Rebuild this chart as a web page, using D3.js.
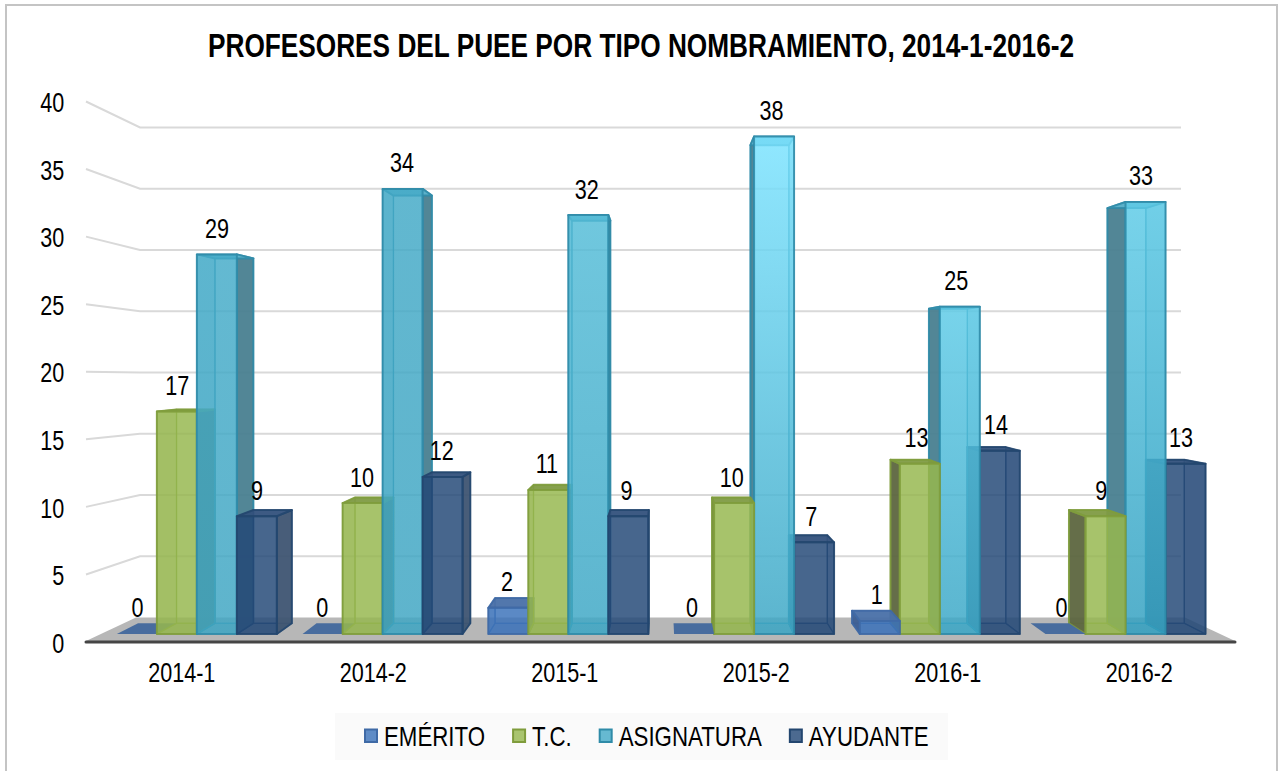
<!DOCTYPE html>
<html>
<head>
<meta charset="utf-8">
<script src="https://cdn.jsdelivr.net/npm/d3@7"></script>
<style>
  html, body { margin: 0; padding: 0; background: #fff; }
  text { font-family: "Liberation Sans", Arial, sans-serif; fill: #000; }
</style>
</head>
<body>
<svg id="chart" width="1281" height="771"></svg>
<script>
const categories = ["2014-1", "2014-2", "2015-1", "2015-2", "2016-1", "2016-2"];
const seriesNames = ["EMÉRITO", "T.C.", "ASIGNATURA", "AYUDANTE"];
const emerito = [0, 0, 2, 0, 1, 0];
const tc = [17, 10, 11, 10, 13, 9];
const asignatura = [29, 34, 32, 38, 25, 33];
const ayudante = [9, 12, 9, 7, 14, 13];
const yTicks = [0, 5, 10, 15, 20, 25, 30, 35, 40];

const values = [emerito, tc, asignatura, ayudante];

// colores de cada serie (el frente va con transparencia)
const palette = [
  { front: "#3c73b9", legend: "#5f8cc6", stroke: "#3f6aa6", side: "#3d5f93", hidden: "#4f78b0", top: "#4a70a8" },
  { front: "#96b74f", legend: "#a9c46f", stroke: "#7f9c3c", side: "#5d6640", hidden: "#83a34d", top: "#7f9b45" },
  { front: "#44aac7", legend: "#66b9d1", stroke: "#2f8ba8", side: "#4a7f90", hidden: "#3f9db8", top: "#5db3cc" },
  { front: "#254978", legend: "#4c6a90", stroke: "#23466f", side: "#3f5572", hidden: "#2c4a74", top: "#34527c" }
];
// degradado de ASIGNATURA, cambia por categoria
const asigTop = ["#46acc9", "#44aac7", "#55bdd8", "#7be3ff", "#5ecbe7", "#5ecbe7"];
const asigBottom = ["#40a6c3", "#40a6c3", "#3ea7c5", "#3ca6c4", "#3ba7c6", "#33a0c0"];

const svg = d3.select("#chart");

// las letras del original son angostas: se comprime el texto en x
const NARROW = 0.8;
const NARROW_LEGEND = 0.825;

// marco
svg.append("rect")
  .attr("x", 6).attr("y", 5)
  .attr("width", 1271).attr("height", 790)
  .attr("fill", "#fff")
  .attr("stroke", "#c4c4c4")
  .attr("stroke-width", 2);

// titulo
svg.append("text")
  .attr("transform", "translate(641,57) scale(0.795,1)")
  .attr("text-anchor", "middle")
  .style("font-size", "33px")
  .style("font-weight", "bold")
  .text("PROFESORES DEL PUEE POR TIPO NOMBRAMIENTO, 2014-1-2016-2");

// Escalas: plano frontal de las barras y planos del eje y de la pared
const x0 = d3.scaleBand().domain(categories).range([104, 1218.4]).paddingInner(0).paddingOuter(0);
const x1 = d3.scaleBand().domain(d3.range(4)).range([0, 160]);
const y = d3.scaleLinear().domain([0, 40]).range([634, 110.4]);
const xAxisScale = d3.scaleBand().domain(categories).range([86, 1235]);
const yFront = d3.scaleLinear().domain([0, 40]).range([642, 101.5]);
const yWall = d3.scaleLinear().domain([0, 40]).range([617.5, 127.5]);
const xWall = d3.scaleLinear().domain([0, 1]).range([140, 1181]);
const xFront = d3.scaleLinear().domain([0, 1]).range([86, 1235]);

// perspectiva: punto de fuga y profundidad de la barra
const cx = 661, cy = 358, backF = 0.961;
const project = (px, v, f) => [cx + f * (px - cx), cy + f * (y(v) - cy)];
const closed = d3.line().curve(d3.curveLinearClosed);

// Grid de la pared y lineas laterales
const grid = svg.append("g");
yTicks.filter(d => d > 0).forEach(t => {
  grid.append("path")
    .attr("d", d3.line()([
      [xFront(0), yFront(t)], [xWall(0), yWall(t)], [xWall(1), yWall(t)]
    ]))
    .attr("fill", "none")
    .attr("stroke", "#d9d9d9")
    .attr("stroke-width", 2);
});

// Piso
svg.append("path")
  .attr("d", closed([
    [xFront(0), yFront(0) - 1], [xWall(0) - 4, yWall(0)], [xWall(1) + 4, yWall(0)], [xFront(1), yFront(0) - 1]
  ]))
  .attr("fill", "#b7b7b7");

// Eje base
svg.append("line")
  .attr("x1", xFront(0)).attr("x2", xFront(1))
  .attr("y1", yFront(0)).attr("y2", yFront(0))
  .attr("stroke", "#454545")
  .attr("stroke-width", 3)
  .attr("stroke-linecap", "round");

// Degradados de ASIGNATURA
const defs = svg.append("defs");
categories.forEach((c, i) => {
  const g = defs.append("linearGradient")
    .attr("id", "asig" + i)
    .attr("x1", 0).attr("x2", 0).attr("y1", 0).attr("y2", 1);
  g.append("stop").attr("offset", "0%").attr("stop-color", asigTop[i]);
  g.append("stop").attr("offset", "100%").attr("stop-color", asigBottom[i]);
});

function face(g, pts, fill, opacity, stroke, sw) {
  g.append("path")
    .attr("d", closed(pts))
    .attr("fill", fill)
    .attr("fill-opacity", opacity)
    .attr("stroke", stroke)
    .attr("stroke-opacity", 0.85)
    .attr("stroke-width", sw)
    .attr("stroke-linejoin", "round");
}

// Una barra 3D
function drawBar(g, left, right, v, s, catIndex) {
  const c = palette[s];
  const frontFill = s === 2 ? `url(#asig${catIndex})` : c.front;

  if (v === 0) {
    face(g, [project(left, 0, 1), project(right, 0, 1), project(right, 0, backF), project(left, 0, backF)],
      "#486c9e", 1, "none", 0);
    return;
  }

  const f = project(left, 0, 1), fr = project(right, 0, 1);
  const b = project(left, 0, backF), br = project(right, 0, backF);
  const tl = project(left, v, 1), tr = project(right, v, 1);
  const btl = project(left, v, backF), btr = project(right, v, backF);

  const leftOfCenter = left + (right - left) / 2 < cx;
  const farSide = leftOfCenter ? [fr, br, btr, tr] : [f, b, btl, tl];
  const nearSide = leftOfCenter ? [f, b, btl, tl] : [fr, br, btr, tr];

  face(g, [b, br, btr, btl], frontFill, 0.12, c.stroke, 1.2);
  face(g, [f, fr, br, b], c.hidden, 0.3, c.stroke, 1.2);
  face(g, nearSide, c.hidden, 0.3, c.stroke, 1.2);
  face(g, farSide, c.side, 0.95, c.stroke, 2);
  face(g, [tl, tr, btr, btl], c.top, 0.95, c.stroke, 2);
  face(g, [f, fr, tr, tl], frontFill, 0.82, c.stroke, 2);
}

// Orden de pintado: de afuera hacia el punto de fuga
const bars = svg.append("g");
categories.forEach((cat, i) => {
  const g = bars.append("g");
  const order = x0(cat) + x0.bandwidth() / 2 < cx ? [0, 1, 2, 3] : [3, 2, 1, 0];
  order.forEach(s => {
    const left = x0(cat) + (x0.bandwidth() - 160) / 2 + x1(s);
    drawBar(g, left, left + x1.bandwidth(), values[s][i], s, i);
  });
});

// Etiquetas de datos
const labels = svg.append("g");
categories.forEach((cat, i) => {
  seriesNames.forEach((name, s) => {
    const center = x0(cat) + (x0.bandwidth() - 160) / 2 + x1(s) + x1.bandwidth() / 2;
    const lx = cx + 0.995 * (center - cx) - 2;
    labels.append("text")
      .attr("transform", `translate(${lx},${y(values[s][i]) - 26}) scale(${NARROW},1)`)
      .attr("dy", "0.35em")
      .attr("text-anchor", "middle")
      .style("font-size", "27px")
      .text(values[s][i]);
  });
});

// Ejes
const yAxis = svg.append("g")
  .attr("transform", "translate(69,0)")
  .call(d3.axisLeft(yFront).tickValues(yTicks).tickSize(0).tickPadding(6));
yAxis.select(".domain").remove();
yAxis.attr("font-family", null);
yAxis.selectAll("text")
  .attr("transform", `translate(0,1.5) scale(${NARROW},1)`)
  .style("font-size", "27px");

const xAxis = svg.append("g")
  .attr("transform", `translate(0,${yFront(0)})`)
  .call(d3.axisBottom(xAxisScale).tickSize(0).tickPadding(21));
xAxis.select(".domain").remove();
xAxis.attr("font-family", null);
xAxis.selectAll("text")
  .attr("transform", `scale(${NARROW},1)`)
  .style("font-size", "27px");

// Leyenda
svg.append("rect")
  .attr("x", 335).attr("y", 713)
  .attr("width", 613).attr("height", 47)
  .attr("fill", "#fafafa");

let lx = 365;
seriesNames.forEach((name, s) => {
  svg.append("rect")
    .attr("x", lx).attr("y", 729.5)
    .attr("width", 12).attr("height", 12.5)
    .attr("fill", palette[s].legend)
    .attr("stroke", palette[s].stroke)
    .attr("stroke-width", 2);
  const t = svg.append("text")
    .attr("transform", `translate(${lx + 19},745.5) scale(${NARROW_LEGEND},1)`)
    .style("font-size", "27px")
    .text(name);
  lx += 19 + t.node().getComputedTextLength() * NARROW_LEGEND + 28;
});
</script>
</body>
</html>
